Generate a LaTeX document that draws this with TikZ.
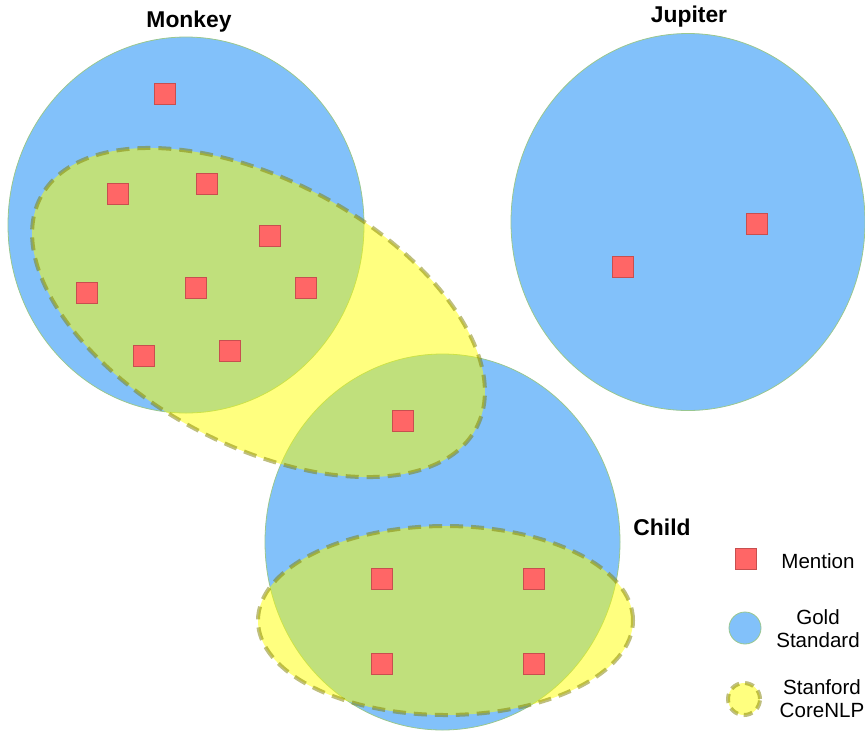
\documentclass[tikz,border=0pt]{standalone}
\usepackage{fontspec}
\setmainfont{Liberation Sans}
\usetikzlibrary{shapes.geometric}
\newlength{\du}
\setlength{\du}{0.02cm}
\definecolor{goldfill}{rgb}{0.509804, 0.756863, 0.980392}
\definecolor{goldline}{rgb}{0.600000, 0.780000, 0.560000}
\definecolor{corefill}{rgb}{1.000000, 1.000000, 0.000000}
\definecolor{coreline}{rgb}{0.500000, 0.500000, 0.000000}
\definecolor{mentfill}{rgb}{1.000000, 0.400000, 0.400000}
\definecolor{mentline}{rgb}{0.780000, 0.310000, 0.310000}
\tikzset{
  gold/.style={ellipse, inner sep=0pt, fill=goldfill, draw=goldline, line width=0.8\du},
  corenlp/.style={ellipse, inner sep=0pt, fill=corefill, fill opacity=0.5, draw=coreline, draw opacity=0.5, line width=4\du, dash pattern=on 13\du off 8\du},
  mention/.style={rectangle, inner sep=0pt, minimum size=21\du, fill=mentfill, draw=mentline, line width=1\du},
  entity/.style={font=\fontsize{13}{15}\selectfont\bfseries},
  legendtext/.style={font=\fontsize{11.7}{13.1}\selectfont, align=center}
}

\begin{document}
\begin{tikzpicture}
\pgftransformxscale{1.000000}
\pgftransformyscale{-1.000000}
\useasboundingbox (0\du,0\du) rectangle (865\du,731\du);
% gold standard clusters
\node[gold, minimum width=356\du, minimum height=376\du] (monkeygold) at (186\du,225\du){};
\node[gold, minimum width=354\du, minimum height=377\du] (jupitergold) at (688\du,222\du){};
\node[gold, minimum width=355\du, minimum height=376\du] (childgold) at (442.5\du,542\du){};
% corenlp clusters
\node[corenlp, rotate=-28, minimum width=493\du, minimum height=265\du] (monkeynlp) at (258.5\du,312.5\du){};
\node[corenlp, minimum width=375\du, minimum height=189\du] (childnlp) at (445.5\du,620.5\du){};
% mentions
\node[mention] (monkeya) at (165\du,94\du){};
\node[mention] (monkeyb) at (118\du,194\du){};
\node[mention] (monkeyc) at (207\du,184\du){};
\node[mention] (monkeyd) at (270\du,236\du){};
\node[mention] (monkeye) at (87\du,293\du){};
\node[mention] (monkeyf) at (196\du,288\du){};
\node[mention] (monkeyg) at (306\du,288\du){};
\node[mention] (monkeyh) at (144\du,356\du){};
\node[mention] (monkeyi) at (230\du,351\du){};
\node[mention] (childa) at (403\du,421\du){};
\node[mention] (childb) at (382\du,579\du){};
\node[mention] (childc) at (534\du,579\du){};
\node[mention] (childd) at (382\du,664\du){};
\node[mention] (childe) at (534\du,664\du){};
\node[mention] (jupitera) at (622.5\du,266.5\du){};
\node[mention] (jupiterb) at (756.5\du,224\du){};
% entity names
\node[entity] (monkeylabel) at (189\du,22\du){Monkey};
\node[entity] (jupiterlabel) at (689\du,17\du){Jupiter};
\node[entity] (childlabel) at (662\du,527\du){Child};
% legend
\node[mention] (keymention) at (746\du,559\du){};
\node[legendtext] (keymentiontext) at (818\du,561\du){Mention};
\node[gold, minimum width=32\du, minimum height=32\du] (keygold) at (745\du,628\du){};
\node[legendtext] (keygoldtext) at (818\du,629\du){Gold\\Standard};
\node[corenlp, minimum width=32\du, minimum height=32\du, dash pattern=on 9\du off 6\du] (keynlp) at (744\du,699\du){};
\node[legendtext] (keynlptext) at (822\du,699\du){Stanford\\CoreNLP};
\end{tikzpicture}
\end{document}
